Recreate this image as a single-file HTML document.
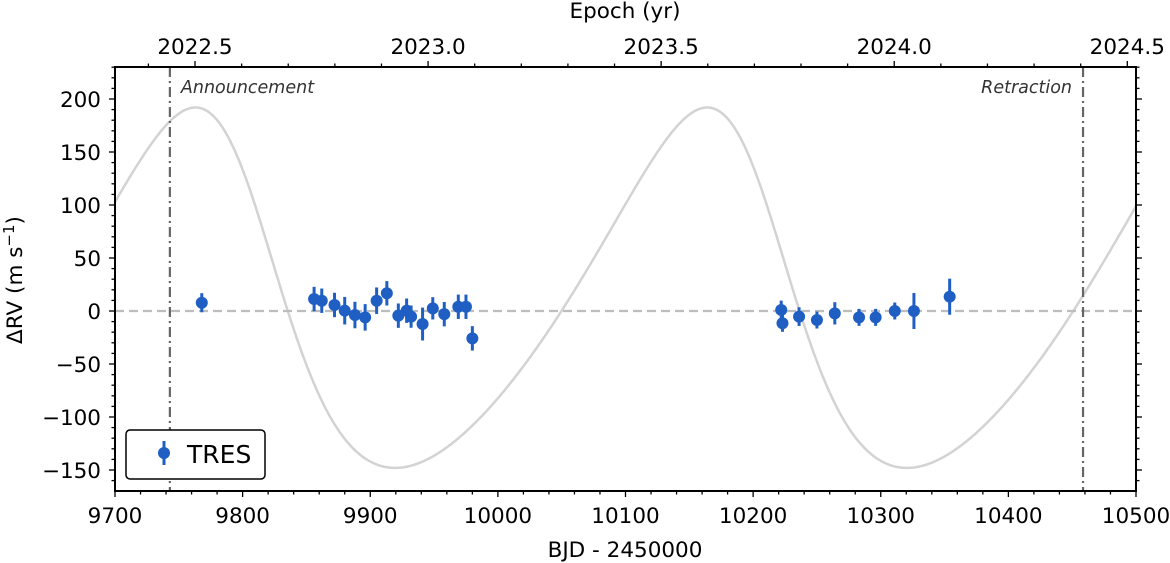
<!DOCTYPE html>
<html><head><meta charset="utf-8"><style>
body{margin:0;background:#fff;}
svg{display:block;font-family:"DejaVu Sans","Liberation Sans",sans-serif;}
</style></head><body>
<svg id="chart" width="1170" height="563"></svg>
<script>
const times=[9768,9856,9862,9872,9880,9888,9896,9905,9913,9922,9928.5,9932,9941,9949,9958,9969,9975,9980,10222,10223,10236,10250,10264,10283,10296,10311,10326,10354];
const rvs=[7.8,11.3,9.7,5.7,0.3,-3.8,-6,9.7,16.7,-4.4,0.3,-5.3,-12.3,2.5,-3,4,4,-25.8,1,-11.6,-5.3,-8.5,-2.2,-6,-6,0,0,13.5];
const errs=[9,11.5,11.5,11.5,13,12.5,12.5,12.5,11.5,11.5,11.5,10.5,15.5,10.5,11.5,11.5,11.5,11.5,8.8,8,8.8,8,10.5,8,8,8,17,17];
const xTicks=[9700,9800,9900,10000,10100,10200,10300,10400,10500];
const yTicks=[-150,-100,-50,0,50,100,150,200];
const yrTicks=[2022.5,2023.0,2023.5,2024.0,2024.5];
const orbitParams={P:401,K:170,e:0.21,omegaDeg:55,gamma:1.5,tMax:9763};
const events=[{t:9743,label:"Announcement"},{t:10458.5,label:"Retraction"}];

const L=115,R=1136,T=67,B=491;
const xs=d=>L+(d-9700)*(R-L)/800;
const ys=v=>311-v*1.06;
const NS="http://www.w3.org/2000/svg";
const svg=document.getElementById('chart');
function mk(tag,a,parent){const e=document.createElementNS(NS,tag);for(const k in a)e.setAttribute(k,a[k]);(parent||svg).appendChild(e);return e;}

function rvModel(t){const p=orbitParams,w=p.omegaDeg*Math.PI/180;
 const nu0=-w;const E0=2*Math.atan(Math.sqrt((1-p.e)/(1+p.e))*Math.tan(nu0/2));const M0=E0-p.e*Math.sin(E0);
 let M=M0+2*Math.PI*(t-p.tMax)/p.P;let E=M;for(let i=0;i<40;i++)E=E-(E-p.e*Math.sin(E)-M)/(1-p.e*Math.cos(E));
 const nu=2*Math.atan2(Math.sqrt(1+p.e)*Math.sin(E/2),Math.sqrt(1-p.e)*Math.cos(E/2));
 return p.K*(Math.cos(nu+w)+p.e*Math.cos(w))+p.gamma;}
const clip=mk('clipPath',{id:'pc'});mk('rect',{x:L,y:T,width:R-L,height:B-T},clip);
let d="";for(let t=9700;t<=10500;t+=1){d+=(t===9700?"M":"L")+xs(t).toFixed(1)+","+ys(rvModel(t)).toFixed(1);}
const curve=mk('path',{d:d,fill:'none',stroke:'#d3d3d3','stroke-width':2.5,'clip-path':'url(#pc)'});


const zl=mk('line',{x1:L,x2:R,y1:ys(0),y2:ys(0),stroke:'#bdbdbd','stroke-width':2.2,'stroke-dasharray':'9,5'});


events.forEach((ev,i)=>{
 const x=xs(ev.t);
 const ln=mk('line',{x1:x,x2:x,y1:T,y2:B,stroke:'#666','stroke-width':2.2,'stroke-dasharray':'10,4,2,4'});
 
 const tx=mk('text',{x:i?x-11:x+11,y:93,'font-size':17.5,'font-style':'italic',fill:'#333','text-anchor':i?'end':'start'});
 tx.textContent=ev.label;
});

times.forEach((t,i)=>{
 const g=mk('g',{});
 const x=xs(t);
 mk('line',{x1:x,x2:x,y1:ys(rvs[i]+errs[i]),y2:ys(rvs[i]-errs[i]),stroke:'#1f5fc4','stroke-width':3},g);
 mk('circle',{cx:x,cy:ys(rvs[i]),r:6,fill:'#1f5fc4'},g);
});

const fr=mk('rect',{x:L,y:T,width:R-L,height:B-T,fill:'none',stroke:'#000','stroke-width':2});


for(let v=9700;v<=10500;v+=20){const x=xs(v),maj=v%100===0;mk('line',{x1:x,x2:x,y1:B,y2:B+(maj?6:3.5),stroke:'#000','stroke-width':1.3});}
xTicks.forEach(v=>{const t=mk('text',{x:xs(v),y:523,'font-size':21.5,'text-anchor':'middle'});t.textContent=v;});
for(let v=-160;v<=230;v+=10){const y=ys(v),maj=v%50===0;if(y<T||y>B)continue;
 mk('line',{x1:L,x2:L-(maj?6:3.5),y1:y,y2:y,stroke:'#000','stroke-width':1.3});
 mk('line',{x1:R,x2:R+(maj?6:3.5),y1:y,y2:y,stroke:'#000','stroke-width':1.3});}
yTicks.forEach(v=>{const t=mk('text',{x:101,y:ys(v)+8,'font-size':21.5,'text-anchor':'end'});t.textContent=v<0?'\u2212'+(-v):v;});
const pxPerYr=365.25*(R-L)/800;const x2022=195;
for(let k=0;k<=21;k++){const yr=2022.4+k*0.1;const x=x2022+(yr-2022.5)*pxPerYr;if(x<L-0.5||x>R+0.5)continue;
 const maj=Math.abs((yr*2)-Math.round(yr*2))<1e-6;mk('line',{x1:x,x2:x,y1:T,y2:T-(maj?6:3.5),stroke:'#000','stroke-width':1.3});}
yrTicks.forEach(v=>{const t=mk('text',{x:x2022+(v-2022.5)*pxPerYr,y:54,'font-size':21.5,'text-anchor':'middle'});t.textContent=v.toFixed(1);});

let t;
t=mk('text',{x:625,y:557,'font-size':21.5,'text-anchor':'middle'});t.textContent='BJD - 2450000';
t=mk('text',{x:625,y:18,'font-size':21.5,'text-anchor':'middle'});t.textContent='Epoch (yr)';
t=mk('text',{x:0,y:0,'font-size':21.5,'text-anchor':'middle',transform:'translate(22,280) rotate(-90)'});
t.innerHTML='\u0394RV (m s<tspan dy="-8" font-size="15">\u22121</tspan><tspan dy="8">)</tspan>';


const lg=mk('g',{});
mk('rect',{x:126,y:430,width:139,height:49,rx:4,fill:'#fff',stroke:'#000','stroke-width':1.5},lg);
mk('line',{x1:164,x2:164,y1:441,y2:465,stroke:'#1f5fc4','stroke-width':3},lg);
mk('circle',{cx:164,cy:453,r:6,fill:'#1f5fc4'},lg);
t=mk('text',{x:187,y:463,'font-size':25},lg);t.textContent='TRES';
</script>
</body></html>
